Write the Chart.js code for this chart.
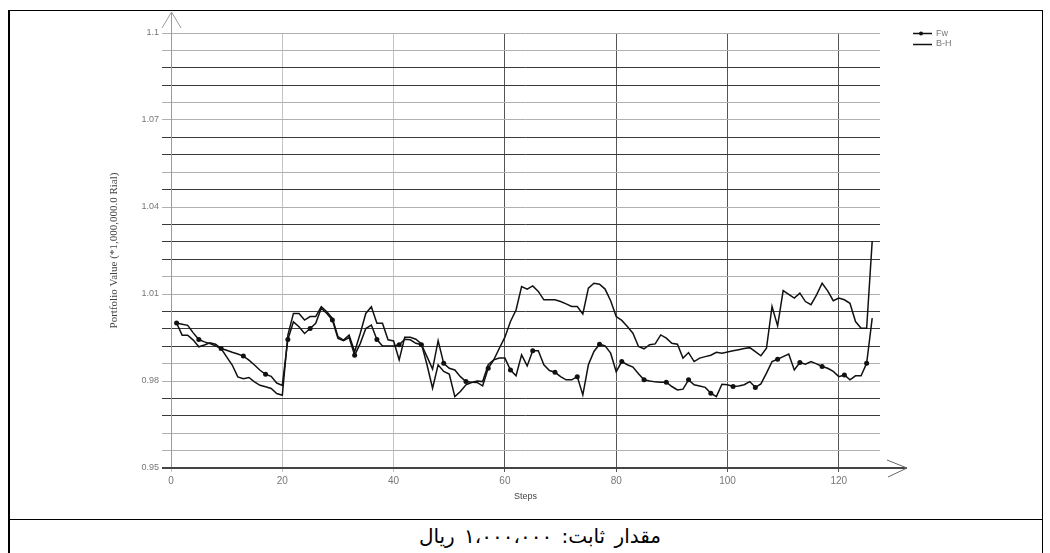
<!DOCTYPE html>
<html><head><meta charset="utf-8">
<script src="https://cdn.jsdelivr.net/npm/chart.js@4.4.0/dist/chart.umd.min.js"></script>
<style>
html,body{margin:0;padding:0;background:#fff;width:1050px;height:553px;overflow:hidden;}
#c{position:absolute;left:0;top:0;width:1050px;height:519px;}
.ln{position:absolute;background:#000;}
#caption{position:absolute;left:24px;top:520px;width:1032px;height:33px;text-align:center;font-family:"DejaVu Sans",sans-serif;font-size:20px;word-spacing:3px;line-height:33px;color:#000;}
</style></head>
<body>
<canvas id="c" width="1050" height="519"></canvas>
<div id="caption" dir="rtl">مقدار ثابت: ۱،۰۰۰،۰۰۰ ریال</div>
<div class="ln" style="left:8px;top:10px;width:1035px;height:1px"></div>
<div class="ln" style="left:8px;top:10px;width:2px;height:543px"></div>
<div class="ln" style="left:1042px;top:10px;width:1px;height:543px"></div>
<div class="ln" style="left:8px;top:519px;width:1035px;height:1px"></div>
<script>
const steps = Array.from({length:126},(_,i)=>i+1);
const fw = [1.000,0.9996,0.9992,0.9966,0.9943,0.9935,0.9929,0.9921,0.9912,0.9906,
0.9899,0.9893,0.9886,0.9872,0.9855,0.9837,0.9823,0.9816,0.9793,0.9785,
0.9943,1.0004,0.9987,0.9964,0.9981,0.9999,1.0051,1.0033,1.0010,0.9947,
0.9939,0.9950,0.9889,0.9929,0.9981,0.9993,0.9943,0.9921,0.9921,0.9921,
0.9925,0.9944,0.9942,0.9930,0.9925,0.9884,0.9841,0.9939,0.9861,0.9844,
0.9838,0.9815,0.9798,0.9796,0.9795,0.9783,0.9844,0.9873,0.9879,0.9879,
0.9838,0.9818,0.9890,0.9852,0.9904,0.9904,0.9856,0.9836,0.9830,0.9815,
0.9804,0.9804,0.9815,0.9752,0.9856,0.9902,0.9927,0.9921,0.9896,0.9832,
0.9867,0.9856,0.9848,0.9825,0.9804,0.9800,0.9797,0.9796,0.9796,0.9781,
0.9769,0.9772,0.9804,0.9787,0.9783,0.9778,0.9758,0.9746,0.9789,0.9787,
0.9781,0.9783,0.9787,0.9798,0.9778,0.9790,0.9827,0.9867,0.9875,0.9884,
0.9893,0.9838,0.9864,0.9858,0.9867,0.9859,0.9850,0.9844,0.9833,0.9815,
0.9821,0.9804,0.9818,0.9818,0.9861,1.0017];
const bh = [1.000,0.9958,0.9958,0.9941,0.9918,0.9924,0.9932,0.9927,0.9912,0.9883,
0.9855,0.9814,0.9808,0.9812,0.9797,0.9785,0.9780,0.9774,0.9757,0.9751,
0.9958,1.0033,1.0033,1.0010,1.0022,1.0022,1.0056,1.0039,1.0016,0.9953,
0.9941,0.9958,0.9901,0.9964,1.0033,1.0056,0.9999,0.9999,0.9942,0.9938,
0.9873,0.9951,0.9951,0.9944,0.9928,0.9856,0.9775,0.9856,0.9833,0.9824,
0.9746,0.9764,0.9787,0.9795,0.9800,0.9798,0.9856,0.9873,0.9913,0.9951,
1.0005,1.0045,1.0126,1.0117,1.0128,1.0109,1.0080,1.0080,1.0080,1.0074,
1.0066,1.0057,1.0057,1.0031,1.0120,1.0137,1.0134,1.0117,1.0077,1.0022,
1.0009,0.9988,0.9965,0.9919,0.9911,0.9925,0.9928,0.9959,0.9948,0.9930,
0.9927,0.9879,0.9898,0.9867,0.9879,0.9884,0.9889,0.9899,0.9896,0.9900,
0.9904,0.9908,0.9912,0.9915,0.9901,0.9887,0.9913,1.0057,0.9990,1.0112,
1.0099,1.0086,1.0103,1.0074,1.0063,1.0097,1.0137,1.0111,1.0077,1.0086,
1.0080,1.0068,1.0005,0.9982,0.9982,1.0283];
const xTicks = [0,20,40,60,80,100,120];
const xTickLabels = ['0','20','40','60','80','100','120'];
const yGrid = [0.95,0.956,0.962,0.968,0.974,0.98,0.986,0.992,0.998,1.004,1.01,1.016,1.022,1.028,1.034,1.04,1.046,1.052,1.058,1.064,1.07,1.076,1.082,1.088,1.094,1.1];
const yTickLabels = ['0.95','0.98','1.01','1.04','1.07','1.1'];
const seriesNames = ['Fw','B-H'];
// gridline shade pattern (style only), index from bottom
const darkRows = [0,3,4,7,8,9,12,13,14,16,18,19,22,23];

const extras = {
  id:'extras',
  afterDraw(chart){
    const ctx = chart.ctx, a = chart.chartArea;
    const x0 = chart.scales.x.getPixelForValue(0);
    const y0 = chart.scales.y.getPixelForValue(0.95);
    ctx.save();
    ctx.strokeStyle = '#9a9a9a'; ctx.lineWidth = 1;
    ctx.beginPath(); ctx.moveTo(x0+0.5, y0); ctx.lineTo(x0+0.5, a.top-21); ctx.stroke();
    ctx.beginPath(); ctx.moveTo(x0-9, a.top-5); ctx.lineTo(x0+0.5, a.top-21); ctx.lineTo(x0+10, a.top-5); ctx.stroke();
    ctx.strokeStyle = '#444'; ctx.lineWidth = 2;
    ctx.beginPath(); ctx.moveTo(x0-9, y0); ctx.lineTo(a.right+27, y0); ctx.stroke();
    ctx.lineWidth = 1; ctx.strokeStyle = '#666';
    ctx.beginPath(); ctx.moveTo(a.right+7, y0-8); ctx.lineTo(a.right+27, y0); ctx.lineTo(a.right+8, y0+9); ctx.stroke();
    ctx.strokeStyle = '#111'; ctx.lineWidth = 1.5;
    ctx.beginPath(); ctx.moveTo(913, 33.5); ctx.lineTo(932, 33.5); ctx.stroke();
    ctx.fillStyle = '#111'; ctx.beginPath(); ctx.arc(921, 33.5, 2, 0, Math.PI*2); ctx.fill();
    ctx.beginPath(); ctx.moveTo(913, 44.5); ctx.lineTo(932, 44.5); ctx.stroke();
    ctx.fillStyle = '#777'; ctx.font = '9px "Liberation Sans", Arial, sans-serif';
    ctx.textBaseline = 'middle'; ctx.textAlign = 'left';
    ctx.fillText(seriesNames[0], 936, 34);
    ctx.fillText(seriesNames[1], 936, 44);
    ctx.restore();
  }
};

new Chart(document.getElementById('c'), {
  type:'line',
  data:{
    datasets:[
      {label:seriesNames[0], data: steps.map((s,i)=>({x:s,y:fw[i]})), borderColor:'#111', borderWidth:1.5,
       pointRadius:(c)=> c.dataIndex%4===0 ? 2.5 : 0, pointBackgroundColor:'#111', pointBorderWidth:0, tension:0},
      {label:seriesNames[1], data: steps.map((s,i)=>({x:s,y:bh[i]})), borderColor:'#111', borderWidth:1.5,
       pointRadius:0, tension:0}
    ]
  },
  options:{
    responsive:false, animation:false, devicePixelRatio:1,
    layout:{padding:{left:104,right:170,top:33,bottom:13}},
    plugins:{legend:{display:false}, tooltip:{enabled:false}},
    scales:{
      x:{type:'linear', min:0, max:127.4,
        afterBuildTicks:(s)=>{ s.ticks = xTicks.map(v=>({value:v})); },
        afterFit:(s)=>{ s.height = 38; },
        border:{display:false},
        grid:{color:(c)=> (c.tick && c.tick.value>=60) ? '#555' : '#c4c4c4', lineWidth:1, drawTicks:true, tickLength:4},
        ticks:{color:'#777', font:{family:'"Liberation Sans", Arial, sans-serif', size:10}, padding:3, maxRotation:0,
          callback:(v,i)=> xTickLabels[i]},
        title:{display:true, text:'Steps', color:'#444', font:{family:'"Liberation Sans", Arial, sans-serif', size:9}, padding:{top:4,bottom:4}}
      },
      y:{type:'linear', min:0.95, max:1.1,
        afterBuildTicks:(s)=>{ s.ticks = yGrid.map(v=>({value:v})); },
        afterFit:(s)=>{ s.width = 67; },
        border:{display:false},
        grid:{color:(c)=> darkRows.includes(c.index) ? '#3a3a3a' : '#b0b0b0', lineWidth:1, drawTicks:true, tickLength:9},
        ticks:{color:'#777', font:{family:'"Liberation Sans", Arial, sans-serif', size:9}, padding:3,
          callback:(v,i)=> i%5===0 ? yTickLabels[i/5] : ''},
        title:{display:true, text:'Portfolio Value (*1,000,000.0 Rial)', color:'#444', font:{family:'"Liberation Serif", "Times New Roman", serif', size:11}, padding:{top:4,bottom:4}}
      }
    }
  },
  plugins:[extras]
});
</script>
</body></html>
